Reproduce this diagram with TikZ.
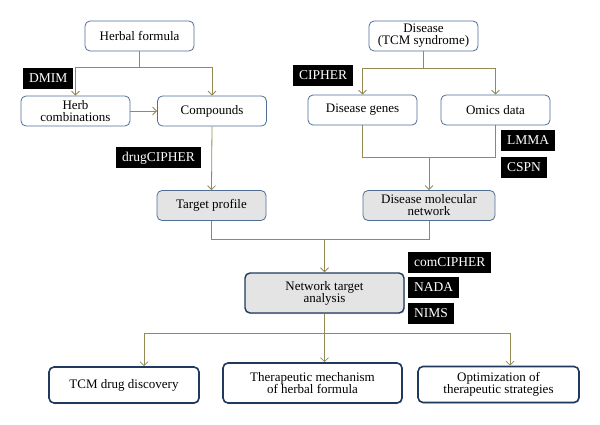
\documentclass[tikz,border=0pt]{standalone}
\usepackage{fontspec}
\setmainfont{Liberation Serif}
\usetikzlibrary{arrows.meta, positioning, calc, shadows}
\definecolor{linkline}{HTML}{948A54}
\definecolor{boxline}{HTML}{4F6E96}
\definecolor{darkbox}{HTML}{1F3A5F}
\definecolor{greybox}{HTML}{E4E4E4}

\begin{document}
\begin{tikzpicture}[x=1pt, y=1pt,
  every node/.style={font=\fontsize{13}{14}\selectfont, align=center},
  box/.style={draw=boxline, line width=0.8pt, rounded corners=5pt, fill=white, inner sep=2pt, minimum width=109pt, minimum height=30pt},
  greybox/.style={box, fill=greybox},
  netbox/.style={draw=darkbox, line width=1.4pt, rounded corners=5pt, fill=greybox, minimum width=159pt, minimum height=40pt,
    drop shadow={shadow xshift=0.8pt, shadow yshift=-1pt, opacity=0.35}},
  outbox/.style={draw=darkbox, line width=1.6pt, rounded corners=5pt, fill=white, minimum height=36pt,
    drop shadow={shadow xshift=0.8pt, shadow yshift=-1pt, opacity=0.35}},
  tag/.style={fill=black, text=white, anchor=west, font=\fontsize{13.5}{14}\selectfont, inner xsep=6pt, inner ysep=3pt, minimum height=21pt},
  link/.style={draw=linkline, line width=0.8pt},
  linkto/.style={link, -{Straight Barb[length=4pt, width=8pt]}}]
  \useasboundingbox (0,0) rectangle (600,-425);

  % herbal side
  \node[box] (herbal) at (139.5,-36) {Herbal formula};
  \node[box] (combo) at (75.5,-111) {Herb\\[-2pt]combinations};
  \node[box] (cpd) at (212,-111) {Compounds};
  \node[greybox] (target) at (211.5,-205.5) {Target profile};

  % disease side
  \node[box] (disease) at (423.5,-36) {Disease\\[-2pt](TCM syndrome)};
  \node[box] (genes) at (362.5,-110) {Disease genes};
  \node[box] (omics) at (495.5,-110) {Omics data};
  \node[greybox, minimum width=132pt] (dmn) at (429,-205.5) {Disease molecular\\[-2pt]network};

  \node[netbox] (net) at (324.5,-293) {Network target\\[-2pt]analysis};

  % applications
  \node[outbox, minimum width=150pt] (tcm) at (124,-385) {TCM drug discovery};
  \node[outbox, minimum width=179pt, minimum height=40pt] (mech) at (312.5,-383) {Therapeutic mechanism\\[-2pt]of herbal formula};
  \node[outbox, minimum width=161pt] (optim) at (498.5,-384.5) {Optimization of\\[-2pt]therapeutic strategies};

  % method tags
  \node[tag] (dmim) at (23,-78.5) {DMIM};
  \node[tag] (cipher) at (293,-75.5) {CIPHER};
  \node[tag] (drugcipher) at (116,-158) {drugCIPHER};
  \node[tag] (lmma) at (501,-140.5) {LMMA};
  \node[tag] (cspn) at (501,-167.5) {CSPN};
  \node[tag] (comcipher) at (408,-262.5) {comCIPHER};
  \node[tag] (nada) at (408,-287) {NADA};
  \node[tag] (nims) at (408,-313.5) {NIMS};

  % connectors
  \draw[link] (herbal.south) -- ++(0,-16) coordinate (hj);
  \draw[linkto] (hj) -| (combo.north);
  \draw[linkto] (hj) -| (cpd.north);
  \draw[linkto] (combo) -- (cpd);
  \draw[linkto] (cpd.south) -- (target.north);

  \draw[link] (disease.south) -- ++(0,-17) coordinate (dj);
  \draw[linkto] (dj) -| (genes.north);
  \draw[linkto] (dj) -| (omics.north);
  \draw[link] (genes.south) -- ++(0,-32) coordinate (gj) -| (omics.south);
  \draw[linkto] (gj -| dmn.north) -- (dmn.north);

  \draw[link] (target.south) -- ++(0,-18) coordinate (tj) -| (dmn.south);
  \draw[linkto] (tj -| net.north) -- (net.north);

  \draw[link] (net.south) -- ++(0,-20) coordinate (nj);
  \draw[linkto] (nj) -| ([xshift=20pt]tcm.north);
  \draw[linkto] (nj) -- (nj |- mech.north);
  \draw[linkto] (nj) -| ([xshift=11.5pt]optim.north);
\end{tikzpicture}
\end{document}
